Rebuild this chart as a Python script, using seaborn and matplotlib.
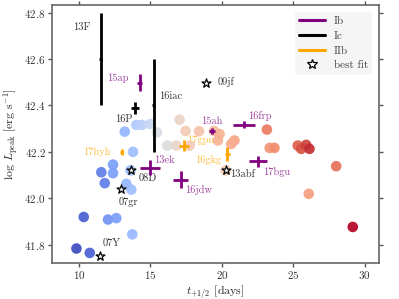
import numpy as np
import pandas as pd
import matplotlib
matplotlib.use("Agg")
import matplotlib.pyplot as plt
import seaborn as sns
from matplotlib.lines import Line2D

# ---- data: model grid (circles) ----
grid_t = [9.82, 10.75, 10.33, 11.56, 11.80, 12.38, 12.38, 12.03, 12.61, 13.31,
          13.66, 13.73, 13.78, 13.20, 14.01, 14.40, 14.99, 13.60, 15.45, 16.18,
          17.04, 16.81, 17.74, 17.46, 18.40, 19.45, 19.84, 19.72, 20.88, 20.65,
          20.26, 23.15, 23.34, 23.68, 25.31, 25.55, 25.90, 26.13, 28.00, 26.08,
          29.16]
grid_L = [41.783, 41.764, 41.919, 42.112, 42.065, 42.145, 42.108, 41.908, 41.914, 42.062,
          42.037, 41.844, 42.200, 42.287, 42.316, 42.316, 42.320, 42.120, 42.284, 42.227,
          42.339, 42.227, 42.227, 42.290, 42.289, 42.290, 42.277, 42.249, 42.249, 42.234,
          42.120, 42.296, 42.217, 42.217, 42.227, 42.213, 42.230, 42.213, 42.138, 42.019,
          41.876]
grid_c = [0.00, 0.05, 0.05, 0.12, 0.12, 0.20, 0.20, 0.17, 0.20, 0.27,
          0.30, 0.28, 0.30, 0.27, 0.35, 0.38, 0.42, 0.30, 0.48, 0.50,
          0.56, 0.55, 0.60, 0.60, 0.63, 0.66, 0.68, 0.68, 0.72, 0.70,
          0.60, 0.82, 0.76, 0.78, 0.88, 0.90, 0.93, 0.96, 0.84, 0.74,
          1.00]

# ---- data: observed SNe with error bars ----
sn_names = ['13F', '16iac', '16P', '15ap', '17hyh', '17gpn', '16gkg', '13ek',
            '16jdw', '17bgu', '15ah', '16frp']
sn_types = ['Ic', 'Ic', 'Ic', 'Ib', 'IIb', 'IIb', 'IIb', 'Ib', 'Ib', 'Ib', 'Ib', 'Ib']
sn_t = [11.52, 15.22, 13.90, 14.24, 13.00, 17.35, 20.38, 14.99, 17.11, 22.52, 19.30, 21.58]
sn_L = [42.600, 42.400, 42.389, 42.499, 42.200, 42.227, 42.191, 42.131, 42.080, 42.160, 42.289, 42.317]
sn_terr = [0.10, 0.10, 0.28, 0.15, 0.10, 0.35, 0.18, 0.70, 0.50, 0.65, 0.23, 0.77]
sn_Lerr = [0.200, 0.200, 0.026, 0.036, 0.012, 0.024, 0.030, 0.032, 0.036, 0.024, 0.014, 0.014]
sn_label_t = [10.17, 16.39, 13.13, 12.73, 11.24, 18.52, 19.02, 15.99, 18.38, 23.80, 19.26, 22.68]
sn_label_L = [42.736, 42.440, 42.342, 42.518, 42.201, 42.249, 42.163, 42.163, 42.034, 42.115, 42.332, 42.353]

# ---- data: best fit stars ----
bf_names = ['08D', '07gr', '07Y', '09jf', '13abf']
bf_t = [13.62, 12.92, 11.45, 18.86, 20.26]
bf_L = [42.120, 42.041, 41.750, 42.499, 42.120]
bf_label_t = [14.83, 13.43, 12.27, 20.26, 21.47]
bf_label_L = [42.084, 41.983, 41.804, 42.502, 42.105]

type_colors = {'Ib': 'purple', 'Ic': 'black', 'IIb': 'orange'}
label_colors = {'Ib': (0.5, 0.0, 0.5, 0.75), 'Ic': (0.2, 0.2, 0.2, 1.0), 'IIb': (1.0, 0.65, 0.0, 0.75)}

sns.set_style('ticks')
plt.rcParams['font.family'] = ['cmr10', 'DejaVu Serif']
plt.rcParams['mathtext.fontset'] = 'cm'
plt.rcParams['axes.formatter.use_mathtext'] = True

fig = plt.figure(figsize=(3.99, 2.99), dpi=100)
ax = fig.add_axes([0.13, 0.12, 0.82, 0.863])

df = pd.DataFrame({'t': grid_t, 'L': grid_L, 'c': grid_c})
sns.scatterplot(data=df, x='t', y='L', hue='c', palette='coolwarm', hue_norm=(0, 1),
                s=58, linewidth=0, alpha=0.92, legend=False, ax=ax, zorder=3)

for n, ty, t, L, te, Le, lt, lL in zip(sn_names, sn_types, sn_t, sn_L, sn_terr, sn_Lerr,
                                        sn_label_t, sn_label_L):
    ax.errorbar(t, L, xerr=te, yerr=Le, fmt='none', ecolor=type_colors[ty],
                elinewidth=2.0, capsize=0, zorder=4)
    ax.text(lt, lL, n, color=label_colors[ty], fontsize=7.5, ha='center', va='center', zorder=2)

ax.scatter(bf_t, bf_L, marker='*', s=45, facecolor='white', edgecolor='black',
           linewidth=0.9, zorder=5)
for n, lt, lL in zip(bf_names, bf_label_t, bf_label_L):
    ax.text(lt, lL, n, color=(0.2, 0.2, 0.2), fontsize=7.5, ha='center', va='center', zorder=2)

ax.set_xlim(8.1, 31.0)
ax.set_ylim(41.72, 42.833)
ax.set_xticks([10, 15, 20, 25, 30])
ax.set_yticks([41.8, 42.0, 42.2, 42.4, 42.6, 42.8])
ax.set_xlabel(r'$t_{+1/2}$ [days]', fontsize=8.5, labelpad=1)
ax.set_ylabel(r'log $L_{\rm peak}$ [erg s$^{-1}$]', fontsize=8.5, labelpad=2)
ax.tick_params(axis='both', which='both', direction='out', length=3, width=1, pad=1.5,
               labelsize=8, top=True, right=True, colors='#555555', labelcolor='#333333')
for sp in ax.spines.values():
    sp.set_visible(True)
    sp.set_color('#666666')
    sp.set_linewidth(1.2)

handles = [Line2D([], [], color='purple', lw=2.2),
           Line2D([], [], color='black', lw=2.2),
           Line2D([], [], color='orange', lw=2.2),
           Line2D([], [], marker='*', ls='none', markersize=7, markerfacecolor='white',
                  markeredgecolor='black', markeredgewidth=0.9)]
leg = ax.legend(handles, ['Ib', 'Ic', 'IIb', 'best fit'], loc='upper right', fontsize=8,
                frameon=True, facecolor='#f5f5f5', edgecolor='none', framealpha=1,
                handlelength=2.3, borderaxespad=0.6, labelspacing=0.45)
for txt in leg.get_texts():
    txt.set_color('#444444')

fig.savefig('out.png', dpi=100)
